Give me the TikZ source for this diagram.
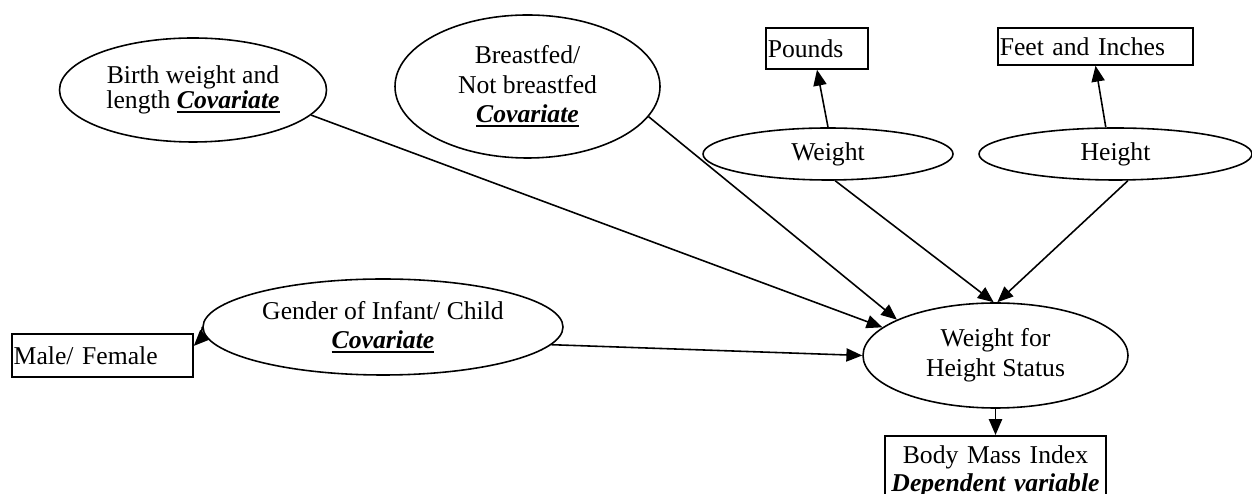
\documentclass[tikz,border=0pt]{standalone}
\usepackage{fontspec}
\setmainfont{Liberation Serif}
\usetikzlibrary{arrows.meta,shapes.geometric}

\newcommand{\covar}{\leavevmode\vtop{\hbox{\textbf{\textit{Covariate}}}\kern1.2pt\hrule height 1.2pt}}

\begin{document}
\begin{tikzpicture}
  [scale=1.0,every node/.style={inner sep=0pt, align=center, font=\fontsize{14.6}{16.8}\selectfont},
   factor/.style={ellipse, draw, line width=0.9pt},
   unitbox/.style={rectangle, draw, line width=0.9pt, inner xsep=1pt, align=left},
   link/.style={-{Triangle[length=9pt,width=7.5pt]}, line width=0.9pt}]

 \useasboundingbox (0,0) rectangle (25.04,9.88);

 \node[factor, minimum width=5.34cm, minimum height=2.08cm] (birth) at (3.86,8.08) {Birth weight and\\[-2.5pt] length \covar};
 \node[factor, minimum width=5.30cm, minimum height=2.86cm] (breast) at (10.55,8.15) {Breastfed/\\ Not breastfed\\ \covar};
 \node[factor, minimum width=5.00cm, minimum height=1.04cm] (weight) at (16.56,6.80) {Weight};
 \node[factor, minimum width=5.46cm, minimum height=1.04cm] (height) at (22.31,6.80) {Height};
 \node[unitbox, text width=1.97cm, minimum height=0.82cm] (pounds) at (16.34,8.91) {Pounds};
 \node[unitbox, text width=3.83cm, minimum height=0.74cm] (feet) at (21.91,8.95) {Feet and Inches};
 \node[factor, minimum width=7.20cm, minimum height=1.92cm] (gender) at (7.66,3.34) {Gender of Infant/ Child\\ \covar};
 \node[unitbox, text width=3.55cm, minimum height=0.86cm] (male) at (2.05,2.77) {Male/ Female};
 \node[factor, minimum width=5.30cm, minimum height=2.10cm] (whs) at (19.91,2.77) {Weight for\\ Height Status};
 \node[unitbox, align=center, text width=4.34cm, inner ysep=5.5pt, minimum height=1.3cm, anchor=north] (bmi) at (19.91,1.18) {Body Mass Index\\[-1pt] \textbf{\textit{Dependent variable}}};

 \foreach \from/\to in {birth.-12/whs.166, breast.-14/whs.160, weight.-75/whs.92, height.-65/whs.88,
                        gender.-6/whs.180, weight.north/pounds.south, height.110/feet.south, whs.south/bmi.north}
   \draw[link] (\from) -- (\to);

 \draw[link] (gender.west) to[out=-95,in=45,looseness=1.2] (male.6);

\end{tikzpicture}
\end{document}
